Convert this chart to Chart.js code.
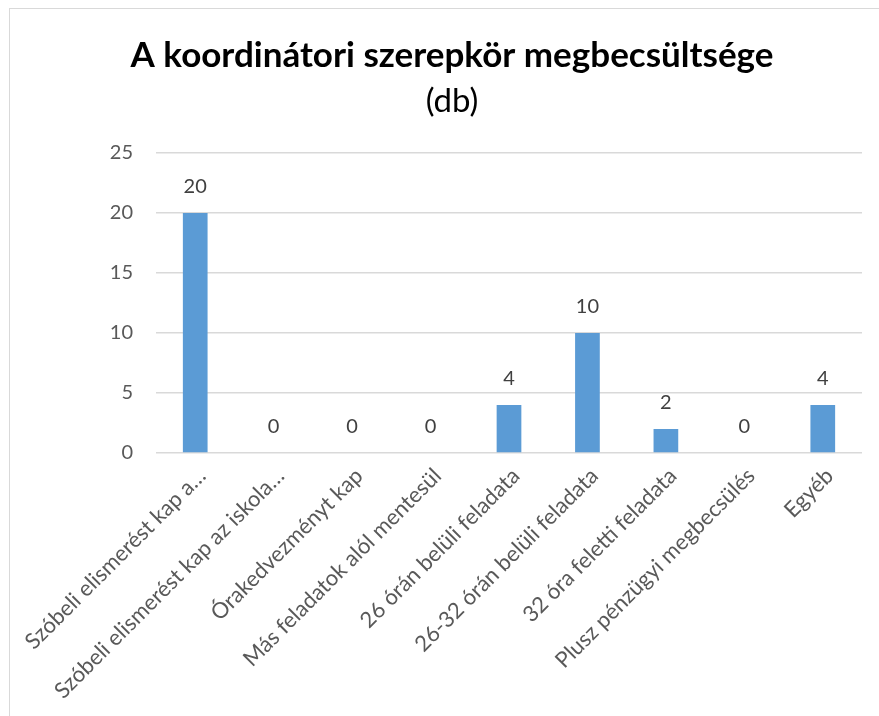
<!DOCTYPE html>
<html>
<head>
<meta charset="utf-8">
<script src="https://cdn.jsdelivr.net/npm/chart.js@4/dist/chart.umd.min.js"></script>
<style>
  html, body { margin: 0; padding: 0; background: #fff; }
  #frame { position: absolute; left: 9px; top: 8px; width: 900px; height: 800px;
           border-left: 1px solid #d9d9d9; border-top: 1px solid #d9d9d9; }
  #wrap { position: absolute; left: 0; top: 0; width: 879px; height: 716px; }
</style>
</head>
<body>
<div id="frame"></div>
<div id="wrap"><canvas id="barChart" width="879" height="716"></canvas></div>
<script>
const categories = [
    'Szóbeli elismerést kap a…',
    'Szóbeli elismerést kap az iskola…',
    'Órakedvezményt kap',
    'Más feladatok alól mentesül',
    '26 órán belüli feladata',
    '26-32 órán belüli feladata',
    '32 óra feletti feladata',
    'Plusz pénzügyi megbecsülés',
    'Egyéb'
];
const counts = [20, 0, 0, 0, 4, 10, 2, 0, 4];
const yTicks = [0, 5, 10, 15, 20, 25];
const titleLines = ['A koordinátori szerepkör megbecsültsége', '(db)'];

const fontFamily = 'Lato, "Open Sans", sans-serif';

// title drawn by hand so it can sit centred on the frame, not the chart area
const titleBlock = {
    id: 'titleBlock',
    afterDraw(chart) {
        const ctx = chart.ctx;
        ctx.save();
        ctx.fillStyle = '#000';
        ctx.textAlign = 'center';
        ctx.textBaseline = 'middle';
        ctx.font = 'bold 35px ' + fontFamily;
        ctx.fillText(titleLines[0], 452, 56);
        ctx.font = '33px ' + fontFamily;
        ctx.fillText(titleLines[1], 452, 101);
        ctx.restore();
    }
};

// draws the value above each bar (no datalabels plugin offline)
const valueLabels = {
    id: 'valueLabels',
    afterDatasetsDraw(chart) {
        const ctx = chart.ctx;
        const meta = chart.getDatasetMeta(0);
        ctx.save();
        ctx.font = '20px ' + fontFamily;
        ctx.fillStyle = '#404040';
        ctx.textAlign = 'center';
        ctx.textBaseline = 'middle';
        meta.data.forEach((bar, i) => {
            ctx.fillText(String(counts[i]), bar.x, bar.y - 26);
        });
        ctx.restore();
    }
};

const ctx = document.getElementById('barChart').getContext('2d');
new Chart(ctx, {
    type: 'bar',
    data: {
        labels: categories,
        datasets: [{
            data: counts,
            backgroundColor: '#5B9BD5',
            categoryPercentage: 1,
            barPercentage: 0.315
        }]
    },
    options: {
        responsive: false,
        animation: false,
        layout: { padding: { left: 0, right: 17, top: 153, bottom: 0 } },
        plugins: {
            legend: { display: false },
            tooltip: { enabled: false },
            title: { display: false }
        },
        scales: {
            x: {
                grid: { display: false },
                border: { display: false },
                ticks: {
                    color: '#595959',
                    font: { family: fontFamily, size: 22 },
                    minRotation: 45,
                    maxRotation: 45,
                    autoSkip: false,
                    labelOffset: 7,
                    padding: 2
                },
                afterFit(scale) { scale.height = 716 - 453; }
            },
            y: {
                min: 0,
                max: 25,
                afterBuildTicks(scale) { scale.ticks = yTicks.map(v => ({ value: v })); },
                grid: { color: '#d9d9d9', lineWidth: 1.5, drawTicks: false },
                border: { display: false },
                ticks: {
                    color: '#595959',
                    font: { family: fontFamily, size: 20 },
                    padding: 23
                },
                afterFit(scale) { scale.width = 156; }
            }
        }
    },
    plugins: [valueLabels, titleBlock]
});
</script>
</body>
</html>
